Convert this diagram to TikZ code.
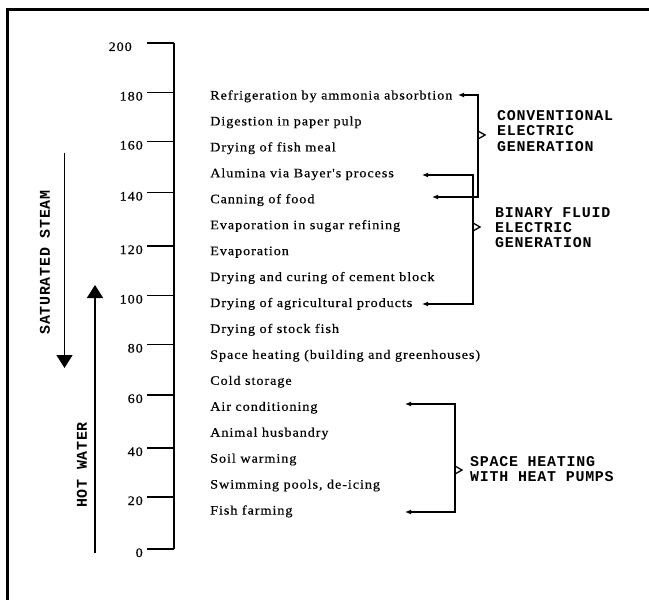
\documentclass[tikz,border=0pt]{standalone}
\usepackage{fontspec}
\usetikzlibrary{arrows.meta}
\newfontfamily\itemfont[FakeStretch=1.1,LetterSpace=7,FakeBold=0.4]{Liberation Serif}
\newfontfamily\capfont[LetterSpace=5]{Liberation Mono Bold}
\begin{document}
\begin{tikzpicture}[x=1bp,y=-1bp,
  item/.style={anchor=base west,inner sep=0pt,font=\itemfont\fontsize{13}{15}\selectfont},
  tlab/.style={anchor=base east,inner sep=0pt,font=\itemfont\fontsize{13}{15}\selectfont},
  captext/.style={anchor=base west,inner sep=0pt,font=\capfont\fontsize{15}{16}\selectfont},
  axisline/.style={line width=2bp},
  tickline/.style={line width=1.5bp},
  brk/.style={line width=1.6bp,{Latex[length=6bp,width=5bp]}-{Latex[length=6bp,width=5bp]}},
  chev/.style={line width=1.3bp},
  bigarrow/.style={line width=1.6bp,-{Triangle[length=13bp,width=16bp]}}
]
\useasboundingbox (0,0) rectangle (649,600);
% frame (top and left edges visible)
\coordinate (fBL) at (7.5,600);
\coordinate (fTL) at (7.5,9.8);
\coordinate (fTR) at (649,9.8);
\draw[line width=3bp] (fBL) -- (fTL) -- (fTR);

% axis
\coordinate (atop) at (174,43);
\coordinate (abot) at (174,549);
\draw[axisline] (atop) -- (abot);
\foreach \v/\y in {200/43,180/92.5,160/141.5,140/192.5,120/246,100/295.5,80/344.5,60/395,40/448,20/497,0/549}{
  \coordinate (ts\v) at (147,\y);
  \coordinate (te\v) at (174,\y);
  \draw[tickline] (ts\v) -- (te\v);
}
\node[tlab] (l200) at (132,51) {200};
\foreach \v/\y in {180/92.5,160/141.5,140/192.5,120/246,100/295.5,80/344.5,60/395,40/448,20/497,0/549}{
  \node[tlab] (l\v) at (143,\y+8) {\v};
}

% items
\foreach \t [count=\i from 0] in {
  Refrigeration by ammonia absorbtion,
  Digestion in paper pulp,
  Drying of fish meal,
  Alumina via Bayer's process,
  Canning of food,
  Evaporation in sugar refining,
  Evaporation,
  Drying and curing of cement block,
  Drying of agricultural products,
  Drying of stock fish,
  Space heating (building and greenhouses),
  Cold storage,
  Air conditioning,
  Animal husbandry,
  Soil warming,
  {Swimming pools, de-icing},
  Fish farming}{
  \node[item] (item\i) at (210,{99.5+25.94*\i}) {\t};
}

% conventional electric generation
\coordinate (cA) at (458,95);
\coordinate (cV) at (478,146);
\coordinate (cB) at (432,197);
\draw[brk] (cA) -| (cV) |- (cB);
\coordinate (cc1) at (478,131);
\coordinate (cc2) at (485,135);
\coordinate (cc3) at (478,139);
\draw[chev] (cc1) -- (cc2) -- (cc3);
\node[captext] (conv1) at (497,120.5) {CONVENTIONAL};
\node[captext] (conv2) at (497,136) {ELECTRIC};
\node[captext] (conv3) at (497,152) {GENERATION};

% binary fluid electric generation
\coordinate (bA) at (422,175);
\coordinate (bV) at (473,240);
\coordinate (bB) at (422,304);
\draw[brk] (bA) -| (bV) |- (bB);
\coordinate (bc1) at (473,223);
\coordinate (bc2) at (480,227);
\coordinate (bc3) at (473,231);
\draw[chev] (bc1) -- (bc2) -- (bc3);
\node[captext] (bin1) at (495,217) {BINARY FLUID};
\node[captext] (bin2) at (495,232) {ELECTRIC};
\node[captext] (bin3) at (495,247) {GENERATION};

% space heating with heat pumps
\coordinate (sA) at (405,404);
\coordinate (sV) at (455,458);
\coordinate (sB) at (405,512);
\draw[brk] (sA) -| (sV) |- (sB);
\coordinate (sc1) at (455,466);
\coordinate (sc2) at (462,470);
\coordinate (sc3) at (455,474);
\draw[chev] (sc1) -- (sc2) -- (sc3);
\node[captext] (sp1) at (470,466) {SPACE HEATING};
\node[captext] (sp2) at (470,481) {WITH HEAT PUMPS};

% left arrows
\coordinate (stTop) at (64.5,153);
\coordinate (stTip) at (64.5,368);
\draw[bigarrow] (stTop) -- (stTip);
\node[captext,rotate=90,anchor=center] (steam) at (45,262.5) {SATURATED STEAM};
\coordinate (hwBot) at (95,553);
\coordinate (hwTip) at (95,285);
\draw[bigarrow] (hwBot) -- (hwTip);
\node[captext,rotate=90,anchor=center] (hot) at (82,465) {HOT WATER};
\end{tikzpicture}
\end{document}
